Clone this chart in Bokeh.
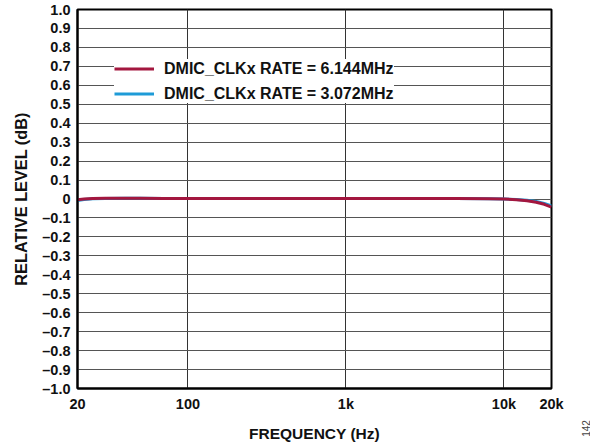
import math
from bokeh.plotting import figure
from bokeh.models import FixedTicker, Legend, LegendItem, Label
from bokeh.embed import file_html
from bokeh.resources import INLINE

# ---- data ----
freq_hz = [20, 22, 25, 30, 40, 50, 70, 100, 200, 500, 1000, 2000, 5000, 8000,
           10000, 12000, 14000, 16000, 18000, 20000]
level_6144 = [-0.004, 0.000, 0.003, 0.004, 0.004, 0.004, 0.003, 0.003, 0.002, 0.002,
              0.002, 0.002, 0.002, 0.001, 0.000, -0.004, -0.009, -0.017, -0.028, -0.043]
level_3072 = [-0.008, -0.003, 0.001, 0.003, 0.004, 0.004, 0.003, 0.003, 0.002, 0.002,
              0.002, 0.002, 0.002, 0.001, 0.000, -0.003, -0.007, -0.013, -0.023, -0.037]

x_ticks = [20, 100, 1000, 10000, 20000]
x_tick_labels = ["20", "100", "1k", "10k", "20k"]
x_grid_ticks = [100, 1000, 10000]
y_ticks = [1.0, 0.9, 0.8, 0.7, 0.6, 0.5, 0.4, 0.3, 0.2, 0.1, 0.0,
           -0.1, -0.2, -0.3, -0.4, -0.5, -0.6, -0.7, -0.8, -0.9, -1.0]
y_tick_labels = ["1.0", "0.9", "0.8", "0.7", "0.6", "0.5", "0.4", "0.3", "0.2", "0.1", "0",
                 "–0.1", "–0.2", "–0.3", "–0.4", "–0.5", "–0.6", "–0.7", "–0.8", "–0.9", "–1.0"]
series_labels = ["DMIC_CLKx RATE = 6.144MHz", "DMIC_CLKx RATE = 3.072MHz"]

RED = "#A3173F"
BLUE = "#1E9BD7"
FONT = "Liberation Sans"

p = figure(width=590, height=444, x_axis_type="log", x_range=(20, 20000), y_range=(-1, 1),
           output_backend="svg", toolbar_location=None,
           min_border_left=77, min_border_right=39, min_border_top=9, min_border_bottom=56)

p.outline_line_color = "black"
p.outline_line_width = 2
p.background_fill_color = "white"
p.border_fill_color = "white"

# axes
p.xaxis.ticker = FixedTicker(ticks=x_ticks)
p.xaxis.major_label_overrides = {float(t): l for t, l in zip(x_ticks, x_tick_labels)}
p.yaxis.ticker = FixedTicker(ticks=y_ticks)
p.yaxis.major_label_overrides = {float(t): l for t, l in zip(y_ticks, y_tick_labels)}

for ax in (p.xaxis[0], p.yaxis[0]):
    ax.major_tick_line_color = None
    ax.minor_tick_line_color = None
    ax.major_tick_out = 0
    ax.major_tick_in = 0
    ax.minor_tick_out = 0
    ax.minor_tick_in = 0
    ax.axis_line_color = "black"
    ax.axis_line_width = 2
    ax.major_label_text_font = FONT
    ax.major_label_text_font_style = "bold"
    ax.major_label_text_font_size = "14.5px"
    ax.major_label_text_color = "#111111"
    ax.axis_label_text_font = FONT
    ax.axis_label_text_font_style = "bold"
    ax.axis_label_text_font_size = "15.5px"
    ax.axis_label_text_color = "#111111"

p.xaxis.axis_label = "FREQUENCY (Hz)"
p.yaxis.axis_label = "RELATIVE LEVEL (dB)"
p.yaxis.axis_label_text_font_size = "16.3px"
p.xaxis.major_label_standoff = 7
p.xaxis.axis_label_standoff = 10
p.yaxis.major_label_standoff = 7
p.yaxis.axis_label_standoff = 9

# grids
p.xgrid.ticker = FixedTicker(ticks=x_grid_ticks)
p.xgrid.grid_line_color = "#333333"
p.xgrid.grid_line_width = 1
p.ygrid.ticker = FixedTicker(ticks=y_ticks)
p.ygrid.grid_line_color = "#555555"
p.ygrid.grid_line_width = 1

# data
r_blue = p.line(freq_hz, level_3072, line_color=BLUE, line_width=3)
r_red = p.line(freq_hz, level_6144, line_color=RED, line_width=3)

legend = Legend(items=[LegendItem(label=series_labels[0], renderers=[r_red]),
                       LegendItem(label=series_labels[1], renderers=[r_blue])],
                location=(37, 285), margin=0, padding=4, spacing=6,
                glyph_width=40, glyph_height=19, label_height=19, label_standoff=10,
                background_fill_color="white", background_fill_alpha=1.0,
                border_line_color=None,
                label_text_font=FONT, label_text_font_style="bold",
                label_text_font_size="16px", label_text_color="#111111")
p.add_layout(legend)

# figure number, placed in the right side panel so it is not clipped by the frame
p.add_layout(Label(x=34, y=-40, x_units="screen", y_units="screen", text="142",
                   angle=math.pi / 2, text_align="center", text_baseline="middle",
                   text_font=FONT, text_font_size="10px", text_color="#444444"), "right")

open("out.html", "w").write(file_html(p, INLINE))
